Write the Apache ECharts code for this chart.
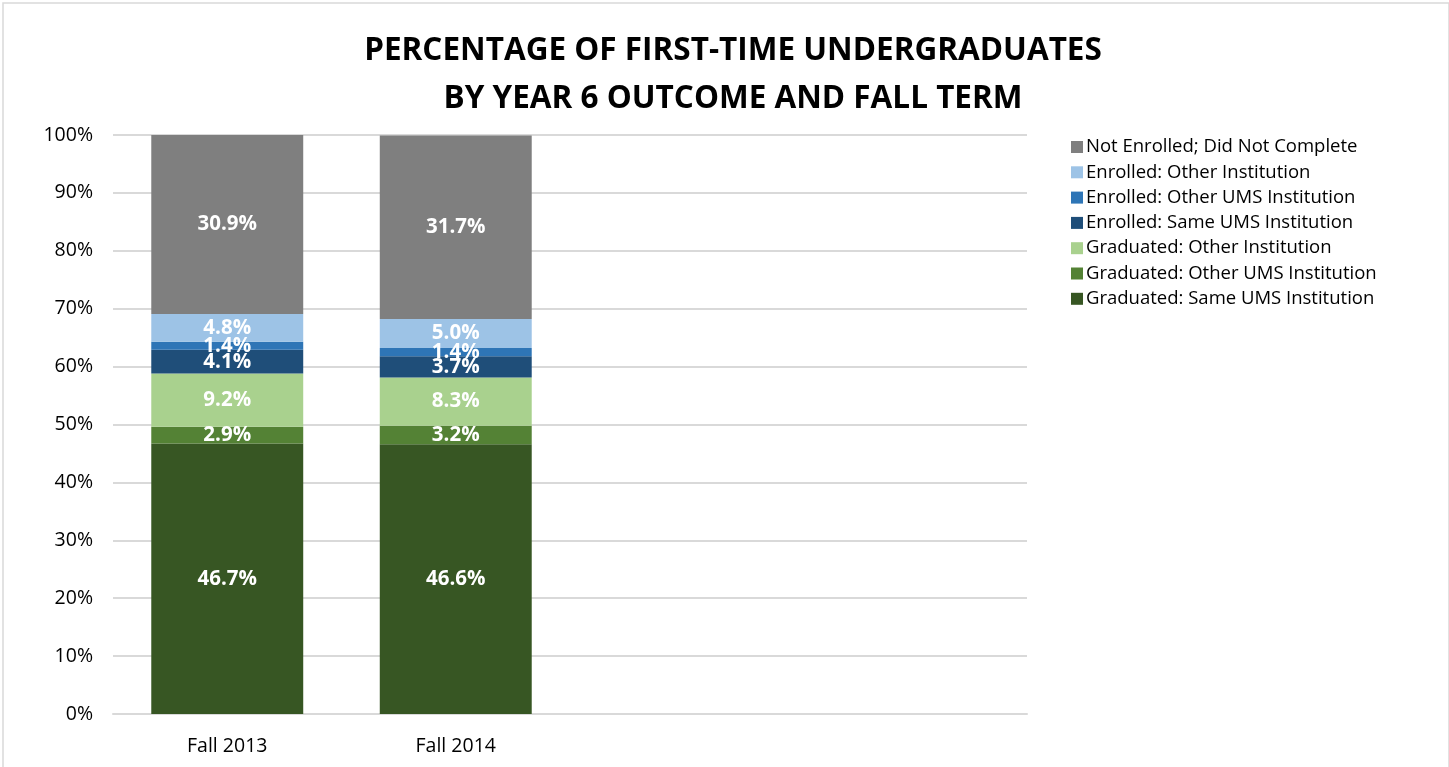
<!DOCTYPE html>
<html><head><meta charset="utf-8">
<script src="https://cdn.jsdelivr.net/npm/echarts@6/dist/echarts.min.js"></script>
<style>html,body{margin:0;padding:0;background:#fff}#c{width:1449px;height:767px}</style>
</head><body><div id="c"></div>
<script>
const categories = ['Fall 2013', 'Fall 2014', '', ''];
const seriesNames = ['Graduated: Same UMS Institution','Graduated: Other UMS Institution','Graduated: Other Institution','Enrolled: Same UMS Institution','Enrolled: Other UMS Institution','Enrolled: Other Institution','Not Enrolled; Did Not Complete'];
const gradSame = [46.7, 46.6];
const gradOtherUMS = [2.9, 3.2];
const gradOther = [9.2, 8.3];
const enrSame = [4.1, 3.7];
const enrOtherUMS = [1.4, 1.4];
const enrOther = [4.8, 5.0];
const notEnrolled = [30.9, 31.7];
const yTicks = [0,10,20,30,40,50,60,70,80,90,100];
const colors = ['#375623','#548235','#A9D18E','#1F4E79','#2E75B6','#9DC3E6','#7F7F7F'];
const values = [gradSame, gradOtherUMS, gradOther, enrSame, enrOtherUMS, enrOther, notEnrolled];
const font = 'Open Sans';
const chart = echarts.init(document.getElementById('c'));
chart.setOption({
  animation:false,
  title:{text:'PERCENTAGE OF FIRST-TIME UNDERGRADUATES\nBY YEAR 6 OUTCOME AND FALL TERM',left:728,textAlign:'center',top:22,
    textStyle:{fontFamily:font,fontWeight:'bold',fontSize:31.5,lineHeight:48,color:'#000'}},
  graphic:[{type:'rect',shape:{x:3,y:3,width:1446,height:770},style:{fill:'none',stroke:'#d9d9d9',lineWidth:1.5},silent:true}],
  legend:{orient:'vertical',left:1066,top:132,itemWidth:12,itemHeight:12,itemGap:5.3,icon:'rect',
    data:seriesNames.slice().reverse(),
    textStyle:{fontFamily:font,fontSize:18.5,lineHeight:20,color:'#000',padding:[0,0,0,-2]}},
  grid:{left:113,right:422,top:135,bottom:53},
  xAxis:{type:'category',data:categories,axisTick:{show:false},
    axisLine:{lineStyle:{color:'#d9d9d9',width:2}},
    axisLabel:{fontFamily:font,fontSize:19.5,color:'#000',margin:22}},
  yAxis:{type:'value',min:0,max:100,interval:10,
    axisLabel:{fontFamily:font,fontSize:19.5,color:'#000',margin:20,formatter:v=>yTicks.includes(v)?v+'%':''},
    splitLine:{lineStyle:{color:'#d9d9d9',width:2}},axisLine:{show:false},axisTick:{show:false}},
  series:seriesNames.map((n,i)=>({name:n,type:'bar',stack:'s',barWidth:'66.5%',
    itemStyle:{color:colors[i]},
    data:values[i],
    label:{show:true,position:'inside',formatter:p=>p.value.toFixed(1)+'%',
      fontFamily:font,fontWeight:'bold',fontSize:20.5,color:'#fff'}}))
});
</script></body></html>
